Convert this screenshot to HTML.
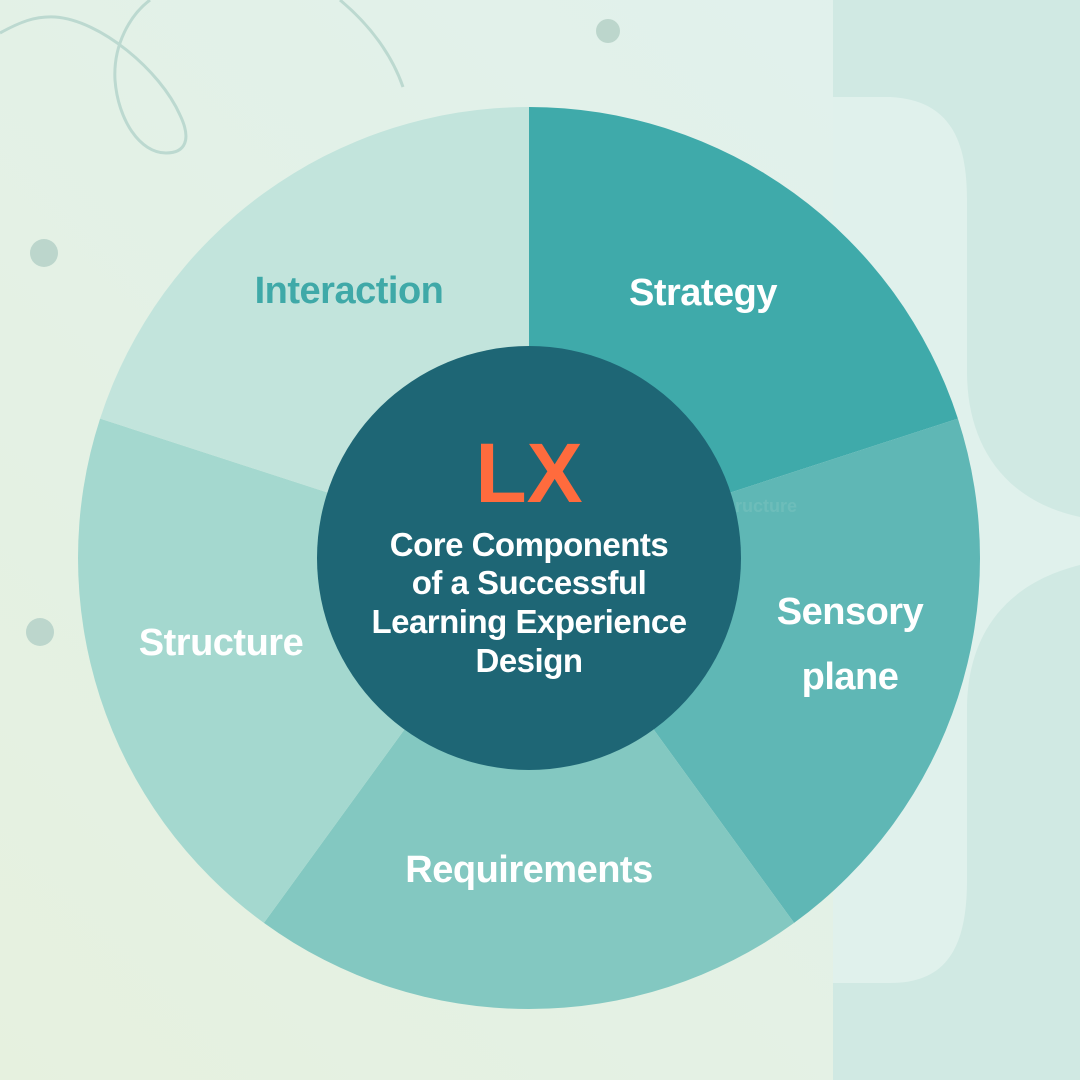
<!DOCTYPE html>
<html><head><meta charset="utf-8"><style>
html,body{margin:0;padding:0;width:1080px;height:1080px;overflow:hidden}
svg{display:block}
text{font-family:"Liberation Sans",sans-serif;font-weight:bold}
</style></head><body>
<svg width="1080" height="1080" viewBox="0 0 1080 1080" xmlns="http://www.w3.org/2000/svg">
<defs>
<linearGradient id="bg" x1="0" y1="1" x2="1" y2="0">
<stop offset="0" stop-color="#e6f1df"/><stop offset="1" stop-color="#e0f1ee"/>
</linearGradient>
</defs>
<rect width="1080" height="1080" fill="url(#bg)"/>
<rect x="833" y="0" width="247" height="1080" fill="#d0e9e3"/>
<path d="M833,97 L890,97 C950,100 967,140 967,200 L967,372 C967,440 1000,500 1080,517 L1080,565 C1000,585 967,640 967,710 L967,880 C967,950 945,983 890,983 L833,983 Z" fill="#e0f1ec"/>
<g fill="none" stroke="#bcd9d0" stroke-width="3">
<path d="M0,33 C20,22 35,16 55,17 C100,20 160,70 180,115 C192,140 185,153 166,153 C140,153 118,120 115,80 C113,45 130,15 150,0"/>
<path d="M340,0 C370,25 392,55 403,87"/>
</g>
<circle cx="44" cy="253" r="14" fill="#bcd6cc"/>
<circle cx="40" cy="632" r="14" fill="#bcd6cc"/>
<circle cx="608" cy="31" r="12" fill="#bcd6cc"/>
<g transform="translate(529,558)">
<path d="M0,0 L0,-451 A451,451 0 0 1 428.9,-139.4 Z" fill="#3faaaa"/>
<path d="M0,0 L428.9,-139.4 A451,451 0 0 1 265.1,364.9 Z" fill="#5fb7b5"/>
<path d="M0,0 L265.1,364.9 A451,451 0 0 1 -265.1,364.9 Z" fill="#83c8c1"/>
<path d="M0,0 L-265.1,364.9 A451,451 0 0 1 -428.9,-139.4 Z" fill="#a4d8cf"/>
<path d="M0,0 L-428.9,-139.4 A451,451 0 0 1 0,-451 Z" fill="#c2e4dc"/>
<circle r="212" fill="#1e6675"/>
</g>
<text x="766" y="512" font-size="18" fill="#6dbdba" text-anchor="middle">ructure</text>
<g font-size="38" text-anchor="middle" fill="#fff" letter-spacing="-0.5">
<text x="349" y="303" fill="#3fa9a8">Interaction</text>
<text x="703" y="305">Strategy</text>
<text x="850" y="624">Sensory</text>
<text x="850" y="689">plane</text>
<text x="529" y="882">Requirements</text>
<text x="221" y="655">Structure</text>
</g>
<text x="529" y="502" font-size="84" fill="#ff6b3d" text-anchor="middle">LX</text>
<g font-size="33" text-anchor="middle" fill="#fff" letter-spacing="-0.5">
<text x="529" y="556">Core Components</text>
<text x="529" y="594">of a Successful</text>
<text x="529" y="633">Learning Experience</text>
<text x="529" y="672">Design</text>
</g>
</svg>
</body></html>
